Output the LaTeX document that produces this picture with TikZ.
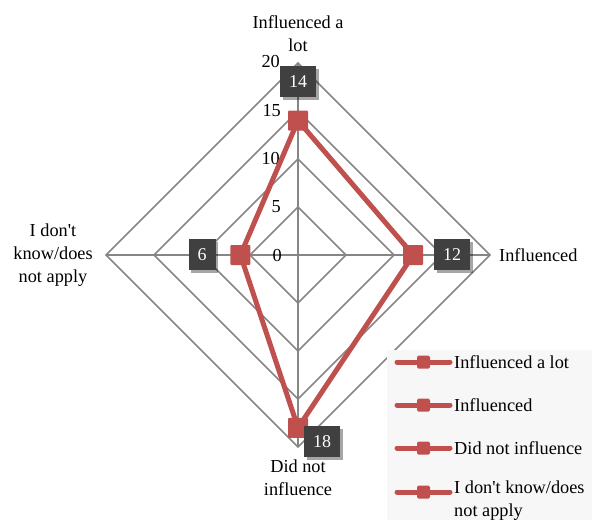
\documentclass[tikz,border=0pt]{standalone}
\usepackage{fontspec}
\setmainfont{Liberation Serif}
\usetikzlibrary{shadows}
\definecolor{gridgray}{HTML}{868686}
\definecolor{serred}{HTML}{C0504D}
\definecolor{lblbox}{HTML}{404040}
\definecolor{legbg}{HTML}{F7F7F7}
\tikzset{
  gridline/.style={draw=gridgray, line width=1.5pt},
  serline/.style={draw=serred, line width=5pt, line join=miter},
  mk/.style={fill=serred, minimum size=20pt, inner sep=0pt, rounded corners=1pt},
  legmk/.style={fill=serred, minimum size=13pt, inner sep=0pt, rounded corners=1.5pt},
  dlabel/.style={fill=lblbox, text=white, minimum height=31pt, inner xsep=9pt, inner ysep=0pt,
    font=\fontsize{18}{20}\selectfont,
    drop shadow={shadow xshift=2.5pt, shadow yshift=-2.5pt, opacity=0.35, fill=black}},
  txt/.style={font=\fontsize{18.3}{23}\selectfont, text=black},
  tick/.style={font=\fontsize{18.3}{20}\selectfont, anchor=east, inner sep=0pt},
}
\begin{document}
\begin{tikzpicture}[x=1pt,y=-1pt]
\useasboundingbox (0,0) rectangle (592,520);
\fill[white] (0,0) rectangle (592,520);
% center and radius
\coordinate (c) at (298,255);
% grid rings
\foreach \r in {48,96,144,192}{
  \draw[gridline] (298,255-\r) -- (298+\r,255) -- (298,255+\r) -- (298-\r,255) -- cycle;
}
\coordinate (top) at (298,63);
\coordinate (right) at (490,255);
\coordinate (bottom) at (298,447);
\coordinate (left) at (106,255);
\draw[gridline] (c) -- (top);
\draw[gridline] (c) -- (right);
\draw[gridline] (c) -- (bottom);
\draw[gridline] (c) -- (left);
% tick labels
\node[tick] (t0) at (282,255) {0};
\node[tick] (t5) at (281,207) {5};
\node[tick] (t10) at (280,159) {10};
\node[tick] (t15) at (281,111) {15};
\node[tick] (t20) at (280,62) {20};
% data points
\coordinate (p1) at (298,120.6);
\coordinate (p2) at (413.2,255);
\coordinate (p3) at (298,427.8);
\coordinate (p4) at (240.4,255);
\draw[serline] (p1) -- (p2) -- (p3) -- (p4) -- cycle;
\node[mk] (m1) at (p1) {};
\node[mk] (m2) at (p2) {};
\node[mk] (m3) at (p3) {};
\node[mk] (m4) at (p4) {};
% data labels
\node[dlabel] (d1) at (298,81.5) {14};
\node[dlabel] (d2) at (452,254.5) {12};
\node[dlabel] (d3) at (322,441.5) {18};
\node[dlabel] (d4) at (202,254.5) {6};
% axis labels
\node[txt, align=center] (a1) at (298,33.5) {Influenced a\\lot};
\node[txt, anchor=west, inner sep=0pt] (a2) at (499,255) {Influenced};
\node[txt, align=center] (a3) at (298,477.5) {Did not\\influence};
\node[txt, align=center] (a4) at (53,255) {I don\textquotesingle t\\know/does\\not apply};
% legend
\fill[legbg] (387,350) rectangle (592,520);
\foreach \y/\t [count=\i] in {362/Influenced a lot,405/Influenced,448/Did not influence}{
  \coordinate (ls\i) at (397,\y);
  \coordinate (le\i) at (450,\y);
  \draw[serred, line width=5pt, line cap=round] (ls\i) -- (le\i);
  \node[legmk] (lm\i) at (423.5,\y) {};
  \node[txt, anchor=west, inner sep=0pt] (lt\i) at (454,\y) {\t};
}
\coordinate (ls4) at (397,492);
\coordinate (le4) at (450,492);
\draw[serred, line width=5pt, line cap=round] (ls4) -- (le4);
\node[legmk] (lm4) at (423.5,492) {};
\node[txt, anchor=north west, inner sep=0pt, align=left] (lt4) at (454,481) {I don\textquotesingle t know/does\\not apply};
\end{tikzpicture}
\end{document}
